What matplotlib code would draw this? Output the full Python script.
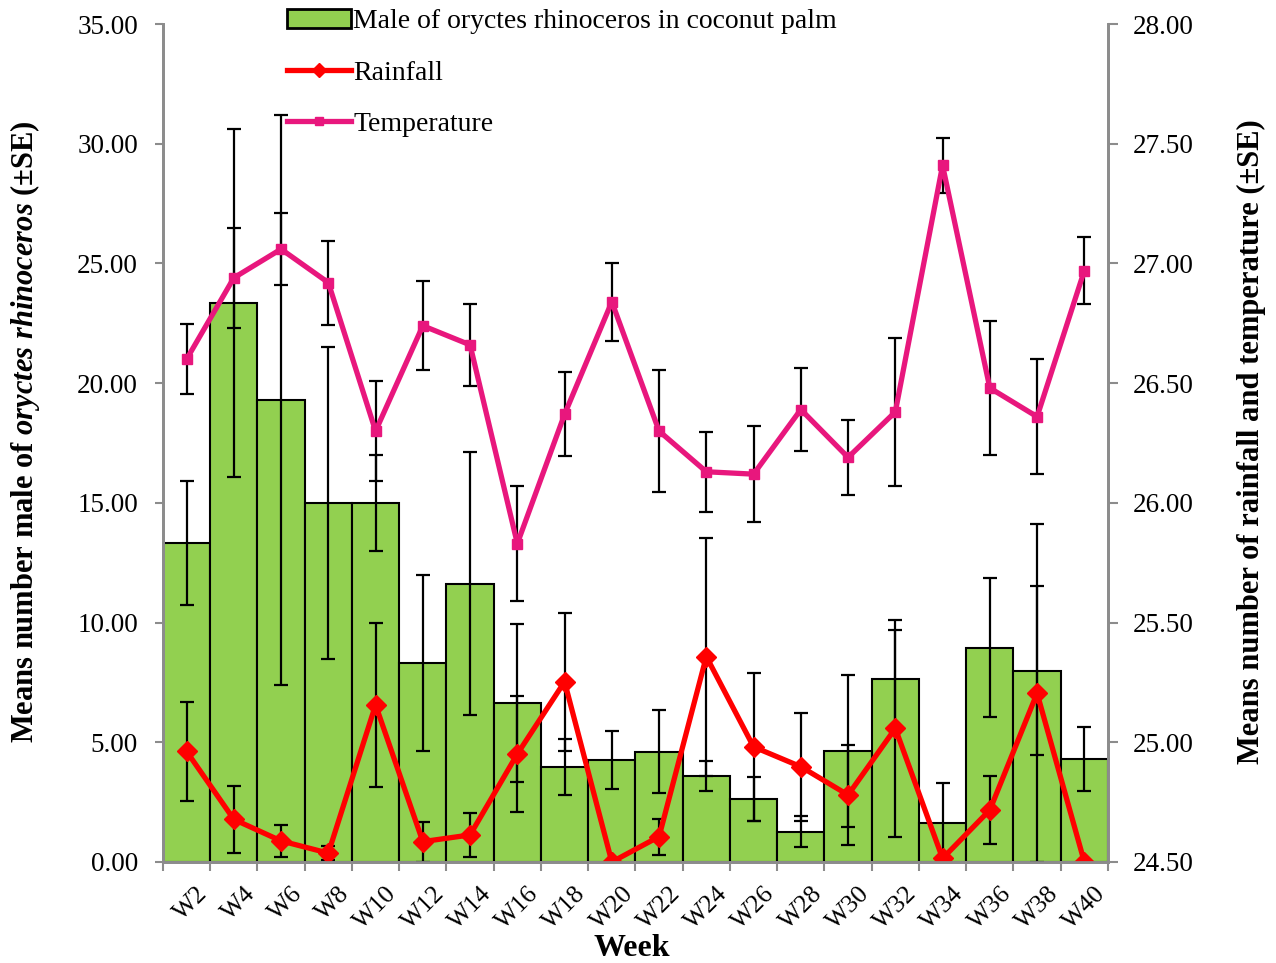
import matplotlib
import numpy as np

matplotlib.use("Agg")
from matplotlib import pyplot as plt
from matplotlib import transforms
from matplotlib.lines import Line2D
from matplotlib.patches import Patch

weeks = ["W2", "W4", "W6", "W8", "W10", "W12", "W14", "W16", "W18", "W20",
         "W22", "W24", "W26", "W28", "W30", "W32", "W34", "W36", "W38", "W40"]
male = [13.33, 23.35, 19.30, 15.00, 15.00, 8.32, 11.63, 6.63, 3.95, 4.26,
        4.61, 3.59, 2.64, 1.27, 4.65, 7.63, 1.61, 8.95, 7.98, 4.29]
male_se = [2.60, 7.27, 11.90, 6.52, 2.00, 3.67, 5.50, 3.30, 1.17, 1.21,
           1.73, 0.63, 0.92, 0.63, 3.17, 2.05, 1.70, 2.90, 3.53, 1.34]
rainfall = [4.62, 1.78, 0.88, 0.37, 6.56, 0.85, 1.13, 4.51, 7.53, 0.00,
            1.06, 8.58, 4.81, 3.98, 2.80, 5.58, 0.15, 2.17, 7.05, 0.00]
rainfall_se = [2.08, 1.39, 0.67, 0.30, 3.43, 0.84, 0.92, 2.42, 2.89, 0.00,
               0.75, 4.97, 3.08, 2.25, 2.08, 4.53, 0.00, 1.42, 7.06, 0.00]
temperature = [26.60, 26.94, 27.06, 26.92, 26.30, 26.74, 26.66, 25.83, 26.37, 26.84,
               26.30, 26.13, 26.12, 26.39, 26.19, 26.38, 27.41, 26.48, 26.36, 26.97]
temperature_se = [0.146, 0.21, 0.15, 0.175, 0.21, 0.185, 0.17, 0.24, 0.175, 0.163,
                  0.256, 0.167, 0.20, 0.175, 0.157, 0.31, 0.115, 0.28, 0.24, 0.14]

plt.rcParams["font.family"] = ["Liberation Serif", "DejaVu Serif"]
plt.rcParams["mathtext.fontset"] = "custom"
plt.rcParams["mathtext.rm"] = "Liberation Serif:bold"
plt.rcParams["mathtext.it"] = "Liberation Serif:italic:bold"
plt.rcParams["mathtext.bf"] = "Liberation Serif:bold"

green = "#92D050"
red = "#FF0000"
pink = "#E8177D"
grey = "#8C8C8C"

x = np.arange(len(weeks))

fig = plt.figure(figsize=(12.76, 9.63), dpi=100)
ax = fig.add_axes([0.1277, 0.1049, 0.8683 - 0.1277, 0.975 - 0.1049])
ax2 = ax.twinx()

ax.bar(x, male, width=1.0, color=green, edgecolor="black", linewidth=1.5, zorder=2)
ax.errorbar(x, male, yerr=male_se, fmt="none", ecolor="black", elinewidth=1.6,
            capsize=5, capthick=1.6, zorder=3)
ax.errorbar(x, rainfall, yerr=rainfall_se, fmt="none", ecolor="black", elinewidth=1.6,
            capsize=5, capthick=1.6, zorder=3)
ax.plot(x, rainfall, color=red, linewidth=3.8, marker="D", markersize=10, zorder=4)

ax2.errorbar(x, temperature, yerr=temperature_se, fmt="none", ecolor="black",
             elinewidth=1.6, capsize=5, capthick=1.6, zorder=3)
ax2.plot(x, temperature, color=pink, linewidth=3.8, marker="s", markersize=7, zorder=4)

ax.set_xlim(-0.5, len(weeks) - 0.5)
ax.set_ylim(0, 35)
ax2.set_ylim(24.5, 28)
left_ticks = np.arange(0, 35.01, 5)
right_ticks = np.arange(24.5, 28.01, 0.5)
ax.set_yticks(left_ticks)
ax.set_yticklabels([f"{v:.2f}" for v in left_ticks])
ax2.set_yticks(right_ticks)
ax2.set_yticklabels([f"{v:.2f}" for v in right_ticks])

ax.set_xticks(x)
ax.set_xticklabels(weeks, rotation=45, ha="right", rotation_mode="anchor")
ax.set_xticks(np.arange(-0.5, len(weeks)), minor=True)
ax.tick_params(axis="x", which="major", length=0, pad=15, labelsize=18.5)
ax.tick_params(axis="x", which="minor", length=6.5, width=1.5, color=grey)
ax.tick_params(axis="y", length=6, width=1.5, color=grey, labelsize=19.5, pad=12)
ax2.tick_params(axis="y", length=7, width=1.5, color=grey, labelsize=19.5, pad=11)
shift = transforms.ScaledTranslation(0.1, 0, fig.dpi_scale_trans)
for label in ax.get_xticklabels():
    label.set_transform(label.get_transform() + shift)

for a in (ax, ax2):
    a.spines["top"].set_visible(False)
    for side in ("left", "right", "bottom"):
        a.spines[side].set_color(grey)
        a.spines[side].set_linewidth(2)

ax.set_xlabel("Week", fontsize=23, fontweight="bold")
ax.xaxis.set_label_coords(0.496, -0.086)
ax.set_ylabel(r"Means number male of $\it{oryctes\ rhinoceros}$ (±SE)",
              fontsize=22, fontweight="bold")
ax.yaxis.set_label_coords(-0.128, 0.513)
ax2.set_ylabel("Means number of rainfall and temperature (±SE)",
               fontsize=22, fontweight="bold")
ax2.yaxis.set_label_coords(1.1365, 0.502)

handles = [
    Patch(facecolor=green, edgecolor="black", linewidth=2),
    Line2D([], [], color=red, linewidth=3.8, marker="D", markersize=7),
    Line2D([], [], color=pink, linewidth=3.8, marker="s", markersize=6),
]
labels = ["Male of oryctes rhinoceros in coconut palm", "Rainfall", "Temperature"]
fig.legend(handles, labels, loc="upper left", bbox_to_anchor=(287 / 1276, 1 - 9 / 963),
           frameon=False, fontsize=20, labelspacing=0.93, handlelength=2.3,
           handletextpad=0.08, borderpad=0, borderaxespad=0, handleheight=0.7)

fig.savefig("out.png", dpi=100)
